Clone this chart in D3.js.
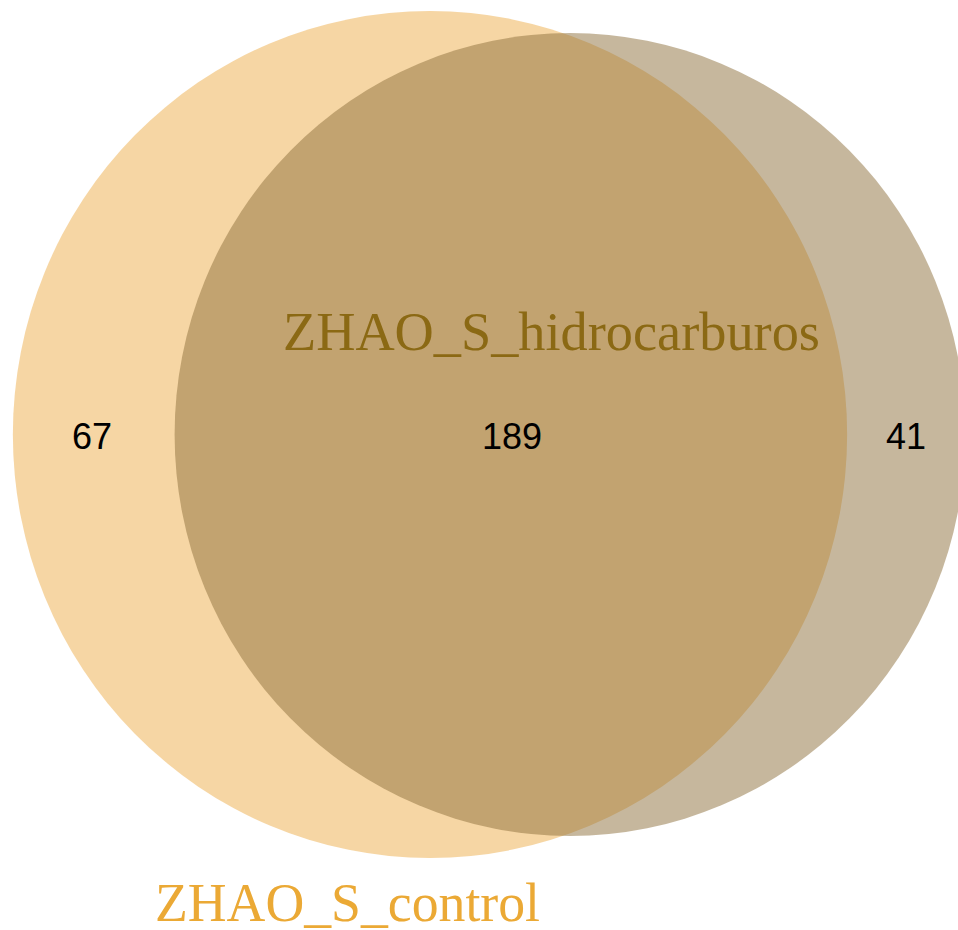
<!DOCTYPE html>
<html lang="en">
<head>
    <meta charset="utf-8">
    <title>Venn</title>
    <script src="https://cdn.jsdelivr.net/npm/d3@7"></script>
    <style>
        body { margin: 0; background: white; }
        text.count { font-family: "Liberation Sans", Arial, sans-serif; font-size: 36px; fill: black; }
        text.setname { font-family: "Liberation Serif", "Times New Roman", serif; font-size: 54px; }
    </style>
</head>
<body>
<script>
    var setNames = ["ZHAO_S_control", "ZHAO_S_hidrocarburos"];
    var setColors = ["#EDAE49", "#8D6F3B"];
    var labelColors = ["#EBA935", "#8B6914"];
    var regionCounts = [67, 189, 41]; // only control, both, only hidrocarburos

    var w = 958, h = 930;

    var totals = [regionCounts[0] + regionCounts[1], regionCounts[1] + regionCounts[2]];

    // radius from set size (area proportional)
    var rScale = d3.scaleSqrt().domain([0, totals[0]]).range([0, 423.5]);
    var aspect = 0.985; // output is slightly squashed horizontally
    var cy = 434.5;
    var centers = [430, 570];

    var svg = d3.select("body").append("svg")
        .attr("width", w)
        .attr("height", h);

    var sets = setNames.map(function (name, i) {
        return {name: name, size: totals[i], cx: centers[i], color: setColors[i], label: labelColors[i]};
    });

    svg.selectAll("ellipse")
        .data(sets)
        .enter()
        .append("ellipse")
        .attr("cx", function (d) { return d.cx; })
        .attr("cy", cy)
        .attr("rx", function (d) { return rScale(d.size) * aspect; })
        .attr("ry", function (d) { return rScale(d.size); })
        .attr("fill", function (d) { return d.color; })
        .attr("fill-opacity", 0.5);

    // region counts
    var countX = [92, 512, 906];
    svg.selectAll("text.count")
        .data(regionCounts)
        .enter()
        .append("text")
        .attr("class", "count")
        .attr("x", function (d, i) { return countX[i]; })
        .attr("y", 449)
        .attr("text-anchor", "middle")
        .text(function (d) { return d; });

    // set names
    var labelPos = [[155, 921], [283, 350]];
    var labelWidth = [385, 537];
    svg.selectAll("text.setname")
        .data(sets)
        .enter()
        .append("text")
        .attr("class", "setname")
        .attr("x", function (d, i) { return labelPos[i][0]; })
        .attr("y", function (d, i) { return labelPos[i][1]; })
        .attr("textLength", function (d, i) { return labelWidth[i]; })
        .attr("lengthAdjust", "spacingAndGlyphs")
        .attr("fill", function (d) { return d.label; })
        .text(function (d) { return d.name; });
</script>
</body>
</html>
